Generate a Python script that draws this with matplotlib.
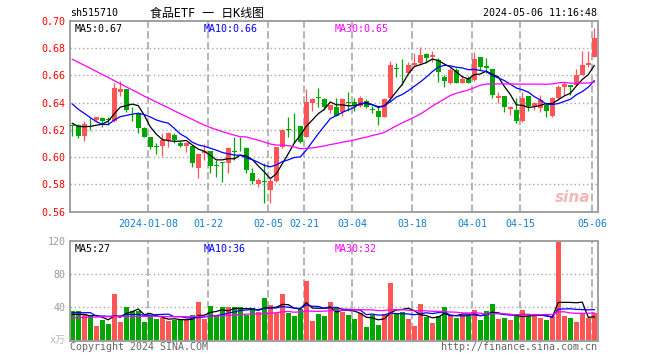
import numpy as np
import pandas as pd
import matplotlib
matplotlib.use("Agg")
import matplotlib.pyplot as plt

# daily candles of sh515710, 2023-12-19 .. 2024-05-06
opens = [0.6238, 0.6234, 0.6156, 0.6258, 0.6273, 0.6288, 0.6276, 0.6266, 0.6479, 0.6501,
         0.6325, 0.6322, 0.6217, 0.6151, 0.6080, 0.6082, 0.6126, 0.6163, 0.6102, 0.6085,
         0.6085, 0.5918, 0.6029, 0.6046, 0.5937, 0.5960, 0.5960, 0.6043, 0.6075, 0.6071,
         0.5887, 0.5801, 0.5823, 0.5760, 0.5826, 0.6078, 0.6207, 0.6213, 0.6229, 0.6151,
         0.6401, 0.6440, 0.6428, 0.6347, 0.6371, 0.6335, 0.6403, 0.6408, 0.6376, 0.6416,
         0.6354, 0.6340, 0.6298, 0.6433, 0.6655, 0.6626, 0.6616, 0.6678, 0.6690, 0.6756,
         0.6734, 0.6714, 0.6587, 0.6548, 0.6641, 0.6548, 0.6580, 0.6567, 0.6734, 0.6670,
         0.6646, 0.6433, 0.6450, 0.6352, 0.6347, 0.6269, 0.6450, 0.6377, 0.6359, 0.6384,
         0.6303, 0.6433, 0.6518, 0.6531, 0.6531, 0.6604, 0.6678, 0.6739]
highs = [0.6242, 0.6242, 0.6266, 0.6291, 0.6297, 0.6293, 0.6293, 0.6543, 0.6560, 0.6501,
         0.6371, 0.6330, 0.6224, 0.6151, 0.6107, 0.6175, 0.6185, 0.6175, 0.6122, 0.6114,
         0.6085, 0.6024, 0.6095, 0.6046, 0.5982, 0.5965, 0.6078, 0.6151, 0.6150, 0.6075,
         0.5919, 0.5845, 0.5960, 0.5857, 0.6078, 0.6205, 0.6293, 0.6322, 0.6229, 0.6501,
         0.6433, 0.6506, 0.6433, 0.6384, 0.6433, 0.6433, 0.6477, 0.6433, 0.6450, 0.6428,
         0.6376, 0.6371, 0.6433, 0.6707, 0.6695, 0.6719, 0.6702, 0.6763, 0.6812, 0.6763,
         0.6783, 0.6727, 0.6604, 0.6653, 0.6653, 0.6597, 0.6597, 0.6771, 0.6734, 0.6727,
         0.6646, 0.6482, 0.6450, 0.6377, 0.6433, 0.6482, 0.6450, 0.6408, 0.6457, 0.6396,
         0.6440, 0.6531, 0.6555, 0.6531, 0.6646, 0.6783, 0.6783, 0.6947]
lows = [0.6156, 0.6144, 0.6122, 0.6200, 0.6269, 0.6224, 0.6237, 0.6256, 0.6452, 0.6332,
        0.6269, 0.6176, 0.6146, 0.6063, 0.6026, 0.6009, 0.6073, 0.6102, 0.6073, 0.6041,
        0.5931, 0.5850, 0.5980, 0.5882, 0.5857, 0.5821, 0.5887, 0.5980, 0.6049, 0.5882,
        0.5801, 0.5784, 0.5662, 0.5662, 0.5821, 0.6066, 0.6151, 0.6107, 0.6107, 0.6151,
        0.6340, 0.6367, 0.6347, 0.6322, 0.6303, 0.6303, 0.6342, 0.6340, 0.6367, 0.6359,
        0.6327, 0.6237, 0.6293, 0.6408, 0.6587, 0.6531, 0.6616, 0.6665, 0.6678, 0.6690,
        0.6702, 0.6555, 0.6518, 0.6536, 0.6543, 0.6543, 0.6543, 0.6560, 0.6641, 0.6616,
        0.6433, 0.6396, 0.6335, 0.6310, 0.6254, 0.6259, 0.6342, 0.6347, 0.6335, 0.6293,
        0.6293, 0.6421, 0.6457, 0.6457, 0.6531, 0.6604, 0.6665, 0.6734]
closes = [0.6228, 0.6156, 0.6242, 0.6255, 0.6293, 0.6266, 0.6273, 0.6506, 0.6501, 0.6347,
          0.6322, 0.6217, 0.6151, 0.6078, 0.6078, 0.6126, 0.6175, 0.6126, 0.6085, 0.6102,
          0.5960, 0.6024, 0.6048, 0.5937, 0.5935, 0.5958, 0.6071, 0.6040, 0.6072, 0.5906,
          0.5828, 0.5833, 0.5821, 0.5828, 0.6078, 0.6200, 0.6203, 0.6211, 0.6114, 0.6408,
          0.6428, 0.6436, 0.6371, 0.6384, 0.6303, 0.6428, 0.6399, 0.6376, 0.6433, 0.6371,
          0.6350, 0.6298, 0.6428, 0.6678, 0.6651, 0.6622, 0.6678, 0.6695, 0.6751, 0.6727,
          0.6751, 0.6629, 0.6563, 0.6641, 0.6548, 0.6572, 0.6548, 0.6722, 0.6665, 0.6653,
          0.6457, 0.6453, 0.6372, 0.6372, 0.6269, 0.6438, 0.6377, 0.6396, 0.6420, 0.6342,
          0.6433, 0.6518, 0.6536, 0.6518, 0.6604, 0.6678, 0.6695, 0.6873]
# volume in 10k lots
volumes = [35.6, 35.6, 32.0, 30.8, 17.6, 24.8, 20.0, 56.0, 22.4, 40.4,
           35.6, 35.6, 22.4, 29.6, 26.0, 27.6, 23.6, 24.8, 24.8, 24.8,
           30.8, 46.4, 26.0, 41.6, 30.8, 40.4, 40.4, 40.4, 40.4, 30.8,
           39.2, 34.4, 51.2, 42.8, 33.2, 56.0, 33.2, 29.6, 38.0, 71.6,
           23.6, 32.0, 29.6, 46.4, 40.4, 34.4, 30.8, 26.0, 33.2, 16.4,
           30.8, 18.8, 32.0, 69.0, 33.6, 34.4, 26.0, 17.6, 44.0, 28.6,
           21.4, 29.8, 40.4, 31.0, 27.4, 31.2, 29.6, 36.8, 24.8, 35.6,
           44.0, 26.0, 27.4, 24.8, 29.8, 36.8, 29.8, 29.8, 27.4, 24.8,
           29.2, 118.6, 29.8, 27.4, 22.6, 33.0, 27.4, 33.0]

# moving-average values at the start, where the window reaches before the chart
ma5_head = [0.6249, 0.6226, 0.6224, 0.6226]
ma10_head = [0.6391, 0.6352, 0.6322, 0.6291, 0.6261, 0.6242, 0.6240, 0.6273, 0.6298]
ma30_head = [0.6719, 0.6697, 0.6675, 0.6653, 0.6630, 0.6608, 0.6586, 0.6562, 0.6540, 0.6516,
             0.6494, 0.6472, 0.6448, 0.6427, 0.6405, 0.6384, 0.6363, 0.6340, 0.6320, 0.6298,
             0.6278, 0.6256, 0.6236, 0.6218, 0.6203, 0.6188, 0.6174, 0.6162, 0.6150]
vma5_head = [31.6, 31.6, 31.6, 29.6]
vma10_head = [33.6, 33.6, 33.6, 33.6, 29.6, 29.6, 29.2, 29.6, 29.6]
vma30_head = [27.2, 27.6, 28.0, 28.4, 28.4, 28.8, 28.8, 29.2, 29.2, 29.2,
              29.2, 29.2, 29.2, 29.2, 29.2, 29.2, 28.8, 28.8, 28.8, 28.8,
              28.8, 29.2, 29.2, 29.6, 29.6, 30.0, 30.4, 30.8, 31.2]

tick_idx = [13, 23, 33, 39, 47, 57, 67, 75, 87]
tick_labels = ["2024-01-08", "01-22", "02-05", "02-21", "03-04",
               "03-18", "04-01", "04-15", "05-06"]

RED = "#ff5555"
GREEN = "#00a600"
GRID = "#a8a8a8"
MONO = "DejaVu Sans Mono"


def ma(values, n, head):
    s = pd.Series(values, dtype=float).rolling(n).mean()
    s.iloc[:len(head)] = head
    return s.values


W, H = 660, 360
fig = plt.figure(figsize=(W / 100, H / 100), dpi=100)
ax = fig.add_axes([70 / W, 1 - 211.7 / H, 528 / W, 190.7 / H])
axv = fig.add_axes([70 / W, 1 - 340.7 / H, 528 / W, 100 / H])

x = np.arange(len(closes))
o, h, l, c = map(np.array, (opens, highs, lows, closes))
up = c >= o
cols = np.where(up, RED, GREEN)

for a in (ax, axv):
    a.set_xlim(-0.38, len(closes) - 0.38)
    for s in a.spines.values():
        s.set_color("#a0a0a0")
        s.set_linewidth(1.4)
    for t in tick_idx:
        a.axvline(t - 0.33, color=GRID, lw=1.2, ls=(0, (4.5, 2)), zorder=0)
    a.tick_params(length=0)

# price panel
ax.set_ylim(0.56, 0.70)
for yv in np.arange(0.58, 0.69, 0.02):
    ax.axhline(yv, color=GRID, lw=1.0, ls=(0, (1, 2)), zorder=0)
ax.vlines(x, l, h, colors=cols, lw=0.9, zorder=2)
body = np.maximum(np.abs(c - o), 0.0005)
ax.bar(x, body, bottom=np.minimum(o, c), width=0.78, color=cols, zorder=3)
ax.plot(x, ma(closes, 5, ma5_head), color="black", lw=0.9, zorder=4)
ax.plot(x, ma(closes, 10, ma10_head), color="#0000ff", lw=0.9, zorder=4)
ax.plot(x, ma(closes, 30, ma30_head), color="#ff00ff", lw=0.9, zorder=4)

ax.set_yticks(np.arange(0.56, 0.7001, 0.02))
ax.set_yticklabels([f"{v:.2f}" for v in np.arange(0.56, 0.7001, 0.02)],
                   color="red", fontsize=7.2, family=MONO)
ax.set_xticks([t - 0.33 for t in tick_idx])
ax.set_xticklabels(tick_labels, color="#1080d0", fontsize=7.2, family=MONO)
ax.tick_params(axis="y", pad=3)
ax.tick_params(axis="x", pad=5)

ax.text(0.008, 0.985, "MA5:0.67", transform=ax.transAxes, fontsize=7.2,
        family=MONO, color="black", va="top")
ax.text(0.254, 0.985, "MA10:0.66", transform=ax.transAxes, fontsize=7.2,
        family=MONO, color="#0000ff", va="top")
ax.text(0.502, 0.985, "MA30:0.65", transform=ax.transAxes, fontsize=7.2,
        family=MONO, color="#ff00ff", va="top")
ax.text(0.985, 0.035, "sina", transform=ax.transAxes, fontsize=11, color="#f2b8b8",
        style="italic", weight="bold", ha="right", va="bottom", zorder=1)

# volume panel
axv.set_ylim(0, 120)
for yv in (40, 80):
    axv.axhline(yv, color=GRID, lw=1.0, ls=(0, (1, 2)), zorder=0)
axv.bar(x, volumes, width=0.78, color=cols, zorder=2)
axv.plot(x, ma(volumes, 5, vma5_head), color="black", lw=0.9, zorder=4)
axv.plot(x, ma(volumes, 10, vma10_head), color="#0000ff", lw=0.9, zorder=4)
axv.plot(x, ma(volumes, 30, vma30_head), color="#ff00ff", lw=0.9, zorder=4)
axv.set_yticks([40, 80, 120])
axv.set_yticklabels(["40", "80", "120"], color="#999999", fontsize=7.2, family=MONO)
axv.tick_params(axis="y", pad=3)
axv.set_xticks([])

axv.text(0.008, 0.97, "MA5:27", transform=axv.transAxes, fontsize=7.2,
         family=MONO, color="black", va="top")
axv.text(0.254, 0.97, "MA10:36", transform=axv.transAxes, fontsize=7.2,
         family=MONO, color="#0000ff", va="top")
axv.text(0.502, 0.97, "MA30:32", transform=axv.transAxes, fontsize=7.2,
         family=MONO, color="#ff00ff", va="top")

# header and footer
fig.text(70 / W, 1 - 13 / H, "sh515710", fontsize=7.2, family=MONO, va="center")
fig.text(150 / W, 1 - 13 / H, "食品ETF 一 日K线图", fontsize=8.6,
         family=[MONO, "Noto Sans CJK SC"], va="center")
fig.text(597 / W, 1 - 13 / H, "2024-05-06 11:16:48", fontsize=7.2, family=MONO,
         va="center", ha="right")
fig.text(66 / W, 1 - 340 / H, "x万", fontsize=7.2, family=[MONO, "Noto Sans CJK SC"],
         color="#b8b8b8", va="center", ha="right")
fig.text(70 / W, 1 - 347 / H, "Copyright 2024 SINA.COM", fontsize=7.2, family=MONO,
         color="#666666", va="center")
fig.text(597 / W, 1 - 347 / H, "http://finance.sina.com.cn", fontsize=7.2, family=MONO,
         color="#666666", va="center", ha="right")

fig.savefig("out.png", dpi=100)
